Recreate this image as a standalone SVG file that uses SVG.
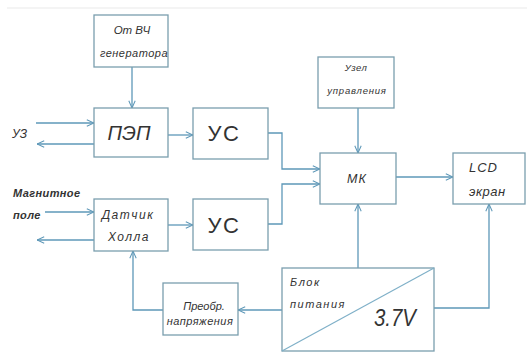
<svg xmlns="http://www.w3.org/2000/svg" width="527" height="353" viewBox="0 0 527 353">
<style>
.box{fill:#fff;stroke:#7a9eae;stroke-width:1.3}
.ln{fill:none;stroke:#5e98b8;stroke-width:1.3}
.t{font-family:"Liberation Sans",Arial,sans-serif;font-style:italic;fill:#333}
.up{font-style:normal}
</style>
<defs>
<marker id="ah" viewBox="0 0 10 10" refX="10" refY="5" markerWidth="8" markerHeight="8" orient="auto" markerUnits="userSpaceOnUse">
<path d="M1,1 L10,5 L1,9" fill="none" stroke="#5e98b8" stroke-width="1.3"/>
</marker>
</defs>
<rect width="527" height="353" fill="#fff"/>
<line x1="7" y1="8" x2="527" y2="8" stroke="#f0f0f0" stroke-width="1.5"/>

<g id="connectors">
<line class="ln" x1="132" y1="67" x2="132" y2="108" marker-end="url(#ah)"/>
<line class="ln" x1="36" y1="123" x2="94" y2="123" marker-end="url(#ah)"/>
<line class="ln" x1="94" y1="144" x2="37" y2="144" marker-end="url(#ah)"/>
<line class="ln" x1="168" y1="135" x2="193" y2="135" marker-end="url(#ah)"/>
<polyline class="ln" points="268,133 282,133 282,169 320,169" marker-end="url(#ah)"/>
<polyline class="ln" points="268,224 282,224 282,184 320,184" marker-end="url(#ah)"/>
<line class="ln" x1="358" y1="108" x2="358" y2="153" marker-end="url(#ah)"/>
<line class="ln" x1="396" y1="177" x2="453" y2="177" marker-end="url(#ah)"/>
<line class="ln" x1="358" y1="268" x2="358" y2="204" marker-end="url(#ah)"/>
<polyline class="ln" points="434,308 489,308 489,204" marker-end="url(#ah)"/>
<line class="ln" x1="282" y1="310" x2="238" y2="310" marker-end="url(#ah)"/>
<polyline class="ln" points="163,310 133,310 133,251" marker-end="url(#ah)"/>
<line class="ln" x1="45" y1="212" x2="94" y2="212" marker-end="url(#ah)"/>
<line class="ln" x1="94" y1="240" x2="37" y2="240" marker-end="url(#ah)"/>
<line class="ln" x1="168" y1="225" x2="193" y2="225" marker-end="url(#ah)"/>
</g>

<g id="labels">
<text class="t" x="12" y="138" font-size="12">УЗ</text>
<text class="t" x="13" y="197" font-size="11" letter-spacing="0.4" font-weight="bold" fill="#555">Магнитное</text>
<text class="t" x="13" y="219" font-size="11" letter-spacing="0.4" font-weight="bold" fill="#555">поле</text>
</g>

<g id="gen">
<rect class="box" x="94" y="15" width="74" height="52"/>
<text class="t" x="132" y="34" font-size="11.5" text-anchor="middle">От ВЧ</text>
<text class="t" x="134" y="57" font-size="11" text-anchor="middle" letter-spacing="0.5">генератора</text>
</g>

<g id="pep">
<rect class="box" x="94" y="108" width="74" height="49"/>
<text class="t" x="129" y="140" font-size="20" text-anchor="middle">ПЭП</text>
</g>

<g id="us1">
<rect class="box" x="193" y="108" width="75" height="51"/>
<text class="t up" x="224" y="141" font-size="22" text-anchor="middle" letter-spacing="1.5">УС</text>
</g>

<g id="hall">
<rect class="box" x="94" y="199" width="74" height="52"/>
<text class="t" x="128" y="219" font-size="12" text-anchor="middle" letter-spacing="1.5">Датчик</text>
<text class="t" x="129" y="241" font-size="12" text-anchor="middle" letter-spacing="1.5">Холла</text>
</g>

<g id="us2">
<rect class="box" x="193" y="199" width="75" height="51"/>
<text class="t up" x="224" y="233" font-size="22" text-anchor="middle" letter-spacing="1.5">УС</text>
</g>

<g id="ctrl">
<rect class="box" x="318" y="57" width="76" height="51"/>
<text class="t" x="356" y="71" font-size="9.5" text-anchor="middle" letter-spacing="0.5">Узел</text>
<text class="t" x="357" y="94" font-size="9.5" text-anchor="middle" letter-spacing="0.8">управления</text>
</g>

<g id="mk">
<rect class="box" x="320" y="153" width="76" height="51"/>
<text class="t" x="357" y="183" font-size="12.5" text-anchor="middle" letter-spacing="1">МК</text>
</g>

<g id="lcd">
<rect class="box" x="453" y="153" width="72" height="51"/>
<text class="t" x="469" y="172" font-size="13" letter-spacing="1">LCD</text>
<text class="t" x="469" y="196" font-size="13" letter-spacing="0.5">экран</text>
</g>

<g id="power">
<rect class="box" x="282" y="268" width="152" height="83"/>
<line x1="282" y1="351" x2="434" y2="268" stroke="#7fb0c8" stroke-width="1.2"/>
<text class="t" x="290" y="286" font-size="11" letter-spacing="1.5">Блок</text>
<text class="t" x="290" y="308" font-size="11" letter-spacing="1.5">питания</text>
<text class="t" x="374" y="326" font-size="23" textLength="42" lengthAdjust="spacingAndGlyphs">3.7V</text>
</g>

<g id="conv">
<rect class="box" x="163" y="283" width="75" height="52"/>
<text class="t" x="204" y="310" font-size="11" text-anchor="middle">Преобр.</text>
<text class="t" x="200" y="325" font-size="11" text-anchor="middle" letter-spacing="0.5">напряжения</text>
</g>
</svg>
